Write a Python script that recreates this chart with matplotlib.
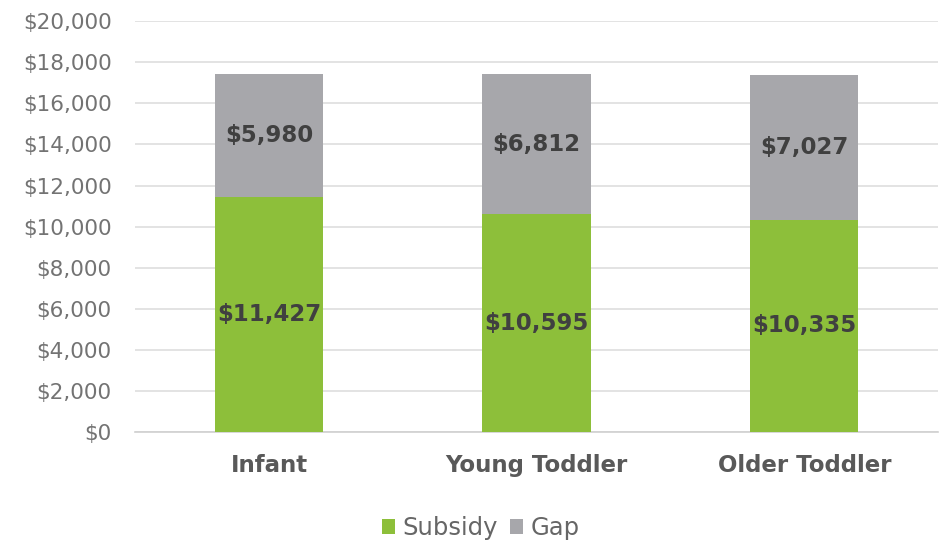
import matplotlib
matplotlib.use("Agg")
import matplotlib.pyplot as plt
import numpy as np

categories = ["Infant", "Young Toddler", "Older Toddler"]
subsidy = [11427, 10595, 10335]
gap = [5980, 6812, 7027]
yticks = list(range(0, 20001, 2000))

green = "#8dbf3a"
grey = "#a7a7ab"

plt.rcParams['font.family'] = ['DejaVu Sans']

fig = plt.figure(figsize=(9.39, 5.44), dpi=100)
ax = fig.add_axes([0.144, 0.206, 0.855, 0.755])

x = np.arange(len(categories))
b1 = ax.bar(x, subsidy, width=0.405, color=green, label="Subsidy", zorder=3)
b2 = ax.bar(x, gap, width=0.405, bottom=subsidy, color=grey, label="Gap", zorder=3)

for i in range(len(categories)):
    ax.text(x[i], subsidy[i] / 2, f"${subsidy[i]:,}", ha="center", va="center",
            fontsize=16.5, fontweight="bold", color="#404040", zorder=4)
    ax.text(x[i], subsidy[i] + gap[i] / 2, f"${gap[i]:,}", ha="center", va="center",
            fontsize=16.5, fontweight="bold", color="#404040", zorder=4)

ax.set_ylim(0, 20000)
ax.set_xlim(-0.5, 2.5)
ax.set_yticks(yticks)
ax.set_yticklabels([f"${v:,}" for v in yticks], fontsize=15.5, color="#737373")
ax.set_xticks(x)
ax.set_xticklabels(categories, fontsize=16.5, fontweight="bold", color="#595959")
ax.tick_params(axis="both", length=0)
ax.tick_params(axis="y", pad=17)
ax.tick_params(axis="x", pad=16)

ax.grid(axis="y", color="#dedede", linewidth=1.2, zorder=0)
for s in ["top", "right", "left"]:
    ax.spines[s].set_visible(False)
ax.spines["bottom"].set_color("#d0d0d0")
ax.spines["bottom"].set_linewidth(1.2)

fig.legend(handles=[b1, b2], labels=["Subsidy", "Gap"], loc="center",
           bbox_to_anchor=(0.512, 0.029), ncol=2, frameon=False, fontsize=17.5,
           handlelength=0.55, handleheight=0.55, handletextpad=0.3, columnspacing=0.5,
           labelcolor="#666666")

fig.savefig("out.png", dpi=100)
